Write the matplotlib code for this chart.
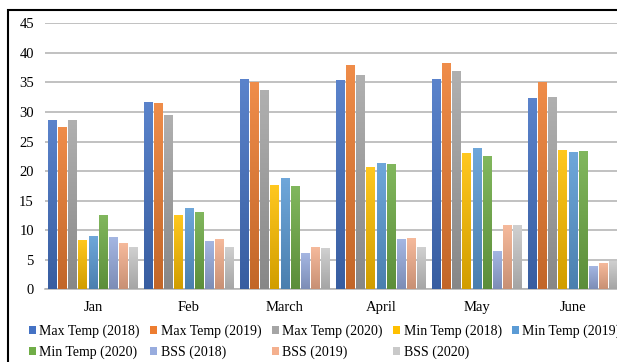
import numpy as np
import matplotlib
matplotlib.use('Agg')
import matplotlib.pyplot as plt
from matplotlib.colors import to_rgb
from matplotlib.patches import Rectangle

# Données
mois = ["Jan", "Feb", "March", "April", "May", "June"]
series = ["Max Temp (2018)", "Max Temp (2019)", "Max Temp (2020)",
          "Min Temp (2018)", "Min Temp (2019)", "Min Temp (2020)",
          "BSS (2018)", "BSS (2019)", "BSS (2020)"]
max_2018 = [28.5, 31.5, 35.4, 35.3, 35.4, 32.2]
max_2019 = [27.3, 31.4, 35.0, 37.8, 38.1, 34.9]
max_2020 = [28.5, 29.3, 33.6, 36.1, 36.8, 32.4]
min_2018 = [8.2, 12.4, 17.5, 20.5, 22.9, 23.4]
min_2019 = [8.9, 13.6, 18.7, 21.2, 23.7, 23.1]
min_2020 = [12.4, 12.9, 17.3, 21.0, 22.4, 23.2]
bss_2018 = [8.7, 8.0, 6.0, 8.4, 6.3, 3.8]
bss_2019 = [7.7, 8.4, 7.0, 8.6, 10.7, 4.3]
bss_2020 = [7.0, 7.0, 6.9, 7.0, 10.7, 4.6]
valeurs = [max_2018, max_2019, max_2020, min_2018, min_2019, min_2020,
           bss_2018, bss_2019, bss_2020]
couleurs = ["#4472C4", "#ED7D31", "#A5A5A5", "#FFC000", "#5B9BD5",
            "#70AD47", "#98ACDE", "#F4B08E", "#C9C9C9"]

plt.rcParams['font.family'] = ['Liberation Serif', 'DejaVu Serif']

W, H = 617, 362
fig = plt.figure(figsize=(W / 100, H / 100), dpi=100)

# cadre noir autour de la figure (coupé à droite et en bas)
fig.patches.append(Rectangle((8 / W, -0.1), 1.2, 1.1 - 10 / H, transform=fig.transFigure,
                             fill=False, edgecolor='black', linewidth=1.5))

ax = fig.add_axes([45 / W, 1 - 289.3 / H, 576 / W, (289.3 - 23.3) / H])

x = np.arange(len(mois))
slot = 0.95 / len(series)
largeur = slot * 0.88


def degrade(ax, barre, couleur):
    # dégradé façon Excel : plus clair en haut, plus foncé en bas
    c = np.array(to_rgb(couleur))
    haut = c + (1 - c) * 0.12
    bas = c * 0.82
    t = np.linspace(0, 1, 64)[:, None]
    img = (haut * (1 - t) + bas * t)[:, None, :]
    x0 = barre.get_x()
    ax.imshow(img, extent=(x0, x0 + barre.get_width(), 0, barre.get_height()),
              aspect='auto', zorder=3, interpolation='bilinear')


handles = []
for i, (nom, vals, coul) in enumerate(zip(series, valeurs, couleurs)):
    pos = x - 0.95 / 2 + slot * (i + 0.5)
    barres = ax.bar(pos, vals, width=largeur, color=coul, label=nom, zorder=2)
    for b in barres:
        degrade(ax, b, coul)
    handles.append(barres)

ax.set_xlim(-0.5, len(mois) - 0.5)
ax.set_ylim(0, 45)
ax.set_yticks(range(0, 46, 5))
ax.set_xticks(x)
ax.set_xticklabels(mois)
ax.tick_params(length=0, labelsize=10.5)
ax.tick_params(axis='y', pad=8)
ax.tick_params(axis='x', pad=8.5)
ax.yaxis.grid(True, color='#b0b0b0', linewidth=1.1)
ax.set_axisbelow(True)
for s in ['top', 'right', 'left']:
    ax.spines[s].set_visible(False)
ax.spines['bottom'].set_color('#b0b0b0')
ax.spines['bottom'].set_linewidth(1.1)

# légende en deux lignes, remplie ligne par ligne
ordre = [0, 5, 1, 6, 2, 7, 3, 8, 4]
leg = fig.legend([handles[k] for k in ordre], [series[k] for k in ordre],
                 ncol=5, loc='upper left', bbox_to_anchor=(29 / W, 1 - 325 / H),
                 frameon=False, fontsize=10, handlelength=0.5, handleheight=0.5,
                 handletextpad=0.25, columnspacing=0.75, labelspacing=0.5,
                 borderaxespad=0, borderpad=0)

fig.savefig("out.png", dpi=100)
